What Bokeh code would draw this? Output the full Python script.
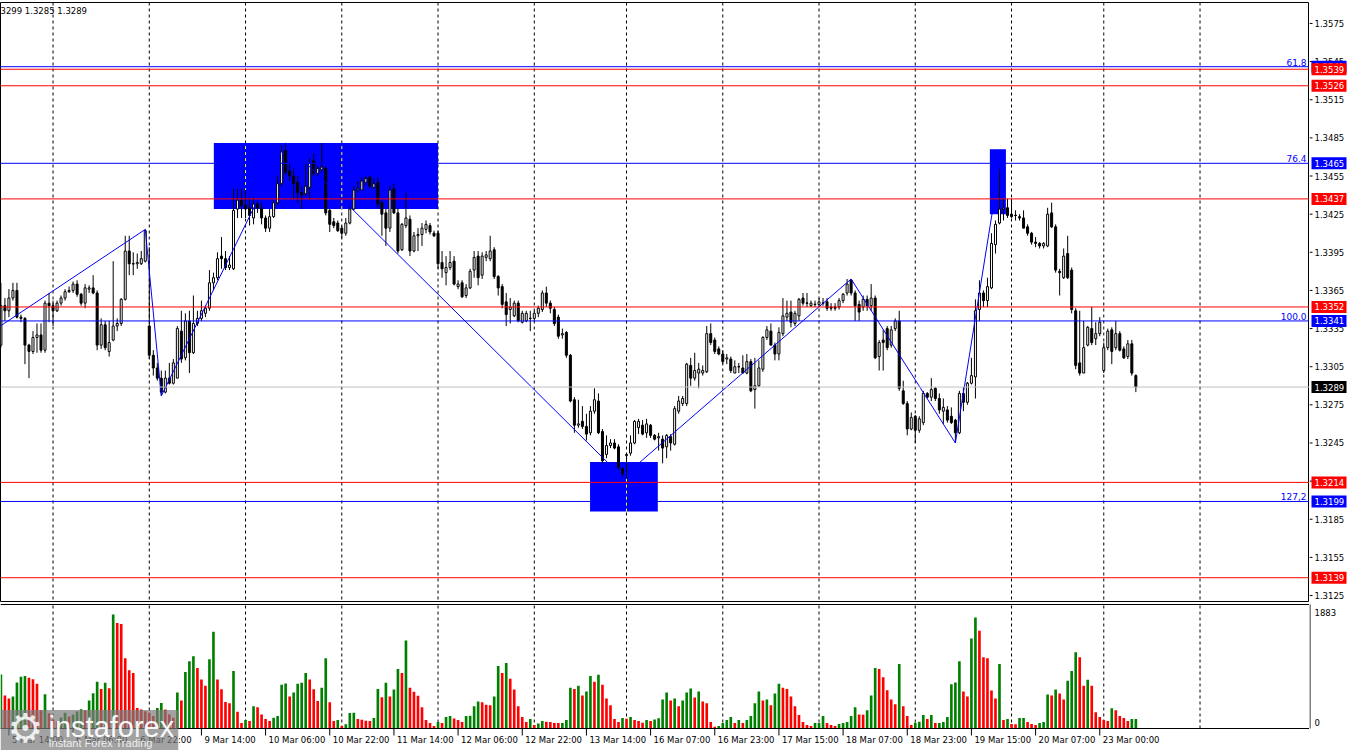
from bokeh.plotting import figure
from bokeh.layouts import column, row
from bokeh.models import Range1d, Span, Label
from bokeh.core.properties import value
from bokeh.embed import file_html
from bokeh.resources import INLINE

# ---------------- data (H1 bars, index 0 = 5 Mar 12:00) ----------------
open_ = [
    1.3322, 1.3353, 1.3349, 1.3359, 1.3365, 1.3344, 1.3343, 1.3322, 1.3317, 1.3328,
    1.3330, 1.3318, 1.3355, 1.3353, 1.3349, 1.3355, 1.3359, 1.3364, 1.3365, 1.3370,
    1.3362, 1.3355, 1.3366, 1.3367, 1.3363, 1.3322, 1.3338, 1.3317, 1.3326, 1.3337,
    1.3339, 1.3358, 1.3396, 1.3386, 1.3386, 1.3386, 1.3388, 1.3337, 1.3314, 1.3304,
    1.3296, 1.3285, 1.3296, 1.3292, 1.3296, 1.3333, 1.3312, 1.3341, 1.3316, 1.3339,
    1.3343, 1.3347, 1.3351, 1.3371, 1.3375, 1.3392, 1.3390, 1.3383, 1.3382, 1.3429,
    1.3436, 1.3432, 1.3430, 1.3422, 1.3433, 1.3430, 1.3422, 1.3414, 1.3423, 1.3434,
    1.3449, 1.3475, 1.3459, 1.3455, 1.3450, 1.3442, 1.3441, 1.3446, 1.3467, 1.3457,
    1.3460, 1.3461, 1.3428, 1.3419, 1.3418, 1.3414, 1.3410, 1.3418, 1.3429, 1.3444,
    1.3444, 1.3450, 1.3454, 1.3446, 1.3450, 1.3434, 1.3426, 1.3414, 1.3445, 1.3426,
    1.3397, 1.3416, 1.3421, 1.3396, 1.3408, 1.3409, 1.3413, 1.3416, 1.3410, 1.3410,
    1.3387, 1.3379, 1.3383, 1.3388, 1.3368, 1.3371, 1.3361, 1.3367, 1.3381, 1.3392,
    1.3377, 1.3391, 1.3390, 1.3397, 1.3376, 1.3368, 1.3356, 1.3350, 1.3345, 1.3355,
    1.3340, 1.3341, 1.3343, 1.3343, 1.3347, 1.3350, 1.3363, 1.3355, 1.3350, 1.3344,
    1.3330, 1.3332, 1.3314, 1.3279, 1.3259, 1.3262, 1.3258, 1.3253, 1.3270, 1.3278,
    1.3254, 1.3236, 1.3243, 1.3245, 1.3242, 1.3225, 1.3235, 1.3237, 1.3245, 1.3257,
    1.3259, 1.3253, 1.3259, 1.3251, 1.3249, 1.3248, 1.3242, 1.3250, 1.3244, 1.3270,
    1.3276, 1.3276, 1.3306, 1.3296, 1.3300, 1.3300, 1.3301, 1.3331, 1.3326, 1.3319,
    1.3315, 1.3311, 1.3311, 1.3300, 1.3305, 1.3304, 1.3300, 1.3309, 1.3287, 1.3290,
    1.3303, 1.3328, 1.3333, 1.3322, 1.3315, 1.3331, 1.3344, 1.3348, 1.3339, 1.3345,
    1.3359, 1.3355, 1.3353, 1.3354, 1.3354, 1.3355, 1.3356, 1.3352, 1.3352, 1.3352,
    1.3357, 1.3363, 1.3373, 1.3363, 1.3354, 1.3352, 1.3358, 1.3353, 1.3359, 1.3313,
    1.3326, 1.3335, 1.3322, 1.3335, 1.3341, 1.3286, 1.3276, 1.3256, 1.3266, 1.3255,
    1.3261, 1.3284, 1.3281, 1.3288, 1.3280, 1.3270, 1.3271, 1.3266, 1.3263, 1.3253,
    1.3284, 1.3277, 1.3292, 1.3297, 1.3350, 1.3363, 1.3357, 1.3367, 1.3401, 1.3418,
    1.3429, 1.3430, 1.3425, 1.3424, 1.3423, 1.3422, 1.3415, 1.3410, 1.3403, 1.3402,
    1.3400, 1.3400, 1.3426, 1.3415, 1.3380, 1.3375, 1.3394, 1.3381, 1.3349, 1.3308,
    1.3300, 1.3322, 1.3335, 1.3327, 1.3331, 1.3302, 1.3320, 1.3334, 1.3320, 1.3331,
    1.3319, 1.3313, 1.3323, 1.3298,
]
high = [
    1.3371, 1.3359, 1.3366, 1.3371, 1.3371, 1.3346, 1.3344, 1.3323, 1.3333, 1.3339,
    1.3339, 1.3357, 1.3363, 1.3357, 1.3357, 1.3361, 1.3366, 1.3368, 1.3372, 1.3373,
    1.3363, 1.3370, 1.3369, 1.3377, 1.3365, 1.3343, 1.3341, 1.3341, 1.3388, 1.3343,
    1.3359, 1.3408, 1.3408, 1.3395, 1.3394, 1.3396, 1.3413, 1.3399, 1.3318, 1.3308,
    1.3302, 1.3302, 1.3308, 1.3311, 1.3337, 1.3349, 1.3347, 1.3349, 1.3361, 1.3349,
    1.3357, 1.3353, 1.3381, 1.3379, 1.3395, 1.3407, 1.3396, 1.3392, 1.3445, 1.3445,
    1.3445, 1.3444, 1.3438, 1.3438, 1.3437, 1.3434, 1.3424, 1.3429, 1.3436, 1.3455,
    1.3479, 1.3481, 1.3466, 1.3461, 1.3455, 1.3447, 1.3466, 1.3469, 1.3473, 1.3463,
    1.3481, 1.3463, 1.3429, 1.3422, 1.3420, 1.3416, 1.3422, 1.3432, 1.3447, 1.3451,
    1.3454, 1.3455, 1.3455, 1.3453, 1.3454, 1.3436, 1.3429, 1.3447, 1.3449, 1.3430,
    1.3418, 1.3442, 1.3424, 1.3411, 1.3414, 1.3418, 1.3420, 1.3418, 1.3412, 1.3412,
    1.3396, 1.3392, 1.3396, 1.3392, 1.3373, 1.3373, 1.3370, 1.3382, 1.3396, 1.3396,
    1.3395, 1.3396, 1.3408, 1.3399, 1.3377, 1.3370, 1.3363, 1.3359, 1.3357, 1.3357,
    1.3349, 1.3349, 1.3349, 1.3349, 1.3353, 1.3365, 1.3368, 1.3357, 1.3352, 1.3346,
    1.3335, 1.3333, 1.3315, 1.3281, 1.3279, 1.3274, 1.3268, 1.3274, 1.3288, 1.3284,
    1.3256, 1.3251, 1.3248, 1.3248, 1.3244, 1.3226, 1.3237, 1.3251, 1.3263, 1.3264,
    1.3263, 1.3264, 1.3260, 1.3252, 1.3253, 1.3251, 1.3252, 1.3252, 1.3274, 1.3282,
    1.3282, 1.3308, 1.3312, 1.3316, 1.3308, 1.3306, 1.3337, 1.3339, 1.3328, 1.3321,
    1.3318, 1.3315, 1.3313, 1.3310, 1.3308, 1.3314, 1.3315, 1.3311, 1.3312, 1.3310,
    1.3329, 1.3337, 1.3339, 1.3324, 1.3336, 1.3359, 1.3357, 1.3357, 1.3349, 1.3359,
    1.3363, 1.3363, 1.3357, 1.3357, 1.3359, 1.3359, 1.3359, 1.3355, 1.3355, 1.3359,
    1.3363, 1.3374, 1.3374, 1.3365, 1.3357, 1.3361, 1.3361, 1.3370, 1.3361, 1.3326,
    1.3334, 1.3337, 1.3337, 1.3343, 1.3349, 1.3294, 1.3278, 1.3269, 1.3267, 1.3266,
    1.3286, 1.3285, 1.3296, 1.3289, 1.3284, 1.3280, 1.3274, 1.3273, 1.3264, 1.3286,
    1.3289, 1.3293, 1.3312, 1.3358, 1.3373, 1.3365, 1.3375, 1.3410, 1.3420, 1.3462,
    1.3437, 1.3437, 1.3437, 1.3428, 1.3425, 1.3428, 1.3417, 1.3411, 1.3407, 1.3403,
    1.3403, 1.3430, 1.3434, 1.3417, 1.3382, 1.3398, 1.3408, 1.3383, 1.3351, 1.3349,
    1.3341, 1.3337, 1.3352, 1.3340, 1.3344, 1.3324, 1.3335, 1.3336, 1.3341, 1.3333,
    1.3321, 1.3326, 1.3326, 1.3299,
]
low = [
    1.3320, 1.3341, 1.3344, 1.3357, 1.3343, 1.3340, 1.3307, 1.3296, 1.3315, 1.3316,
    1.3316, 1.3316, 1.3340, 1.3337, 1.3348, 1.3353, 1.3357, 1.3363, 1.3363, 1.3360,
    1.3353, 1.3351, 1.3363, 1.3362, 1.3318, 1.3319, 1.3318, 1.3313, 1.3325, 1.3333,
    1.3337, 1.3357, 1.3377, 1.3377, 1.3382, 1.3385, 1.3387, 1.3311, 1.3298, 1.3294,
    1.3282, 1.3284, 1.3291, 1.3291, 1.3296, 1.3308, 1.3310, 1.3300, 1.3315, 1.3337,
    1.3341, 1.3344, 1.3349, 1.3365, 1.3373, 1.3382, 1.3381, 1.3381, 1.3381, 1.3422,
    1.3422, 1.3422, 1.3416, 1.3417, 1.3426, 1.3417, 1.3411, 1.3411, 1.3422, 1.3432,
    1.3447, 1.3456, 1.3451, 1.3437, 1.3434, 1.3429, 1.3439, 1.3437, 1.3455, 1.3455,
    1.3458, 1.3424, 1.3411, 1.3414, 1.3411, 1.3406, 1.3408, 1.3417, 1.3428, 1.3442,
    1.3444, 1.3448, 1.3445, 1.3445, 1.3430, 1.3408, 1.3400, 1.3411, 1.3425, 1.3394,
    1.3396, 1.3414, 1.3392, 1.3395, 1.3396, 1.3400, 1.3410, 1.3409, 1.3407, 1.3382,
    1.3375, 1.3369, 1.3381, 1.3369, 1.3366, 1.3359, 1.3359, 1.3366, 1.3375, 1.3369,
    1.3374, 1.3388, 1.3388, 1.3374, 1.3361, 1.3351, 1.3337, 1.3339, 1.3344, 1.3340,
    1.3339, 1.3340, 1.3333, 1.3341, 1.3344, 1.3348, 1.3352, 1.3347, 1.3337, 1.3327,
    1.3327, 1.3312, 1.3277, 1.3253, 1.3257, 1.3256, 1.3247, 1.3251, 1.3268, 1.3252,
    1.3229, 1.3233, 1.3241, 1.3240, 1.3224, 1.3218, 1.3217, 1.3235, 1.3244, 1.3252,
    1.3251, 1.3249, 1.3249, 1.3247, 1.3239, 1.3229, 1.3233, 1.3239, 1.3243, 1.3268,
    1.3274, 1.3274, 1.3290, 1.3294, 1.3288, 1.3298, 1.3300, 1.3322, 1.3315, 1.3314,
    1.3307, 1.3307, 1.3300, 1.3300, 1.3300, 1.3300, 1.3299, 1.3285, 1.3272, 1.3289,
    1.3301, 1.3326, 1.3322, 1.3310, 1.3310, 1.3329, 1.3341, 1.3336, 1.3337, 1.3341,
    1.3353, 1.3352, 1.3352, 1.3352, 1.3352, 1.3353, 1.3349, 1.3349, 1.3349, 1.3350,
    1.3355, 1.3361, 1.3361, 1.3341, 1.3341, 1.3349, 1.3349, 1.3349, 1.3311, 1.3302,
    1.3302, 1.3318, 1.3320, 1.3333, 1.3286, 1.3275, 1.3251, 1.3255, 1.3245, 1.3253,
    1.3259, 1.3280, 1.3278, 1.3278, 1.3268, 1.3260, 1.3261, 1.3260, 1.3245, 1.3252,
    1.3270, 1.3275, 1.3291, 1.3280, 1.3341, 1.3352, 1.3352, 1.3366, 1.3394, 1.3417,
    1.3420, 1.3422, 1.3422, 1.3420, 1.3420, 1.3414, 1.3408, 1.3401, 1.3399, 1.3398,
    1.3398, 1.3399, 1.3414, 1.3379, 1.3361, 1.3374, 1.3374, 1.3347, 1.3303, 1.3298,
    1.3300, 1.3321, 1.3322, 1.3322, 1.3329, 1.3300, 1.3318, 1.3307, 1.3318, 1.3317,
    1.3311, 1.3311, 1.3298, 1.3285,
]
close = [
    1.3353, 1.3349, 1.3359, 1.3365, 1.3344, 1.3343, 1.3322, 1.3317, 1.3328, 1.3330,
    1.3318, 1.3355, 1.3353, 1.3349, 1.3355, 1.3359, 1.3364, 1.3365, 1.3370, 1.3362,
    1.3355, 1.3367, 1.3367, 1.3363, 1.3322, 1.3338, 1.3320, 1.3324, 1.3337, 1.3339,
    1.3358, 1.3396, 1.3386, 1.3386, 1.3387, 1.3390, 1.3412, 1.3314, 1.3304, 1.3296,
    1.3285, 1.3296, 1.3292, 1.3308, 1.3335, 1.3311, 1.3341, 1.3316, 1.3339, 1.3343,
    1.3349, 1.3351, 1.3371, 1.3375, 1.3390, 1.3390, 1.3383, 1.3385, 1.3428, 1.3436,
    1.3432, 1.3429, 1.3424, 1.3433, 1.3430, 1.3422, 1.3414, 1.3423, 1.3434, 1.3449,
    1.3475, 1.3458, 1.3455, 1.3449, 1.3442, 1.3440, 1.3447, 1.3465, 1.3457, 1.3461,
    1.3462, 1.3426, 1.3417, 1.3416, 1.3412, 1.3410, 1.3418, 1.3429, 1.3444, 1.3445,
    1.3451, 1.3453, 1.3447, 1.3449, 1.3433, 1.3425, 1.3414, 1.3444, 1.3426, 1.3396,
    1.3417, 1.3422, 1.3396, 1.3408, 1.3409, 1.3414, 1.3417, 1.3411, 1.3408, 1.3386,
    1.3382, 1.3383, 1.3387, 1.3370, 1.3370, 1.3360, 1.3367, 1.3380, 1.3391, 1.3375,
    1.3392, 1.3393, 1.3396, 1.3376, 1.3367, 1.3354, 1.3346, 1.3352, 1.3355, 1.3341,
    1.3347, 1.3347, 1.3343, 1.3347, 1.3351, 1.3363, 1.3355, 1.3351, 1.3339, 1.3329,
    1.3331, 1.3314, 1.3278, 1.3259, 1.3260, 1.3258, 1.3252, 1.3270, 1.3279, 1.3253,
    1.3231, 1.3243, 1.3245, 1.3241, 1.3226, 1.3221, 1.3236, 1.3245, 1.3262, 1.3262,
    1.3252, 1.3260, 1.3251, 1.3248, 1.3250, 1.3241, 1.3251, 1.3245, 1.3272, 1.3278,
    1.3280, 1.3307, 1.3296, 1.3302, 1.3303, 1.3302, 1.3331, 1.3324, 1.3317, 1.3315,
    1.3309, 1.3312, 1.3302, 1.3305, 1.3305, 1.3300, 1.3309, 1.3286, 1.3290, 1.3304,
    1.3328, 1.3334, 1.3322, 1.3315, 1.3332, 1.3345, 1.3347, 1.3340, 1.3347, 1.3358,
    1.3355, 1.3355, 1.3355, 1.3354, 1.3356, 1.3355, 1.3351, 1.3351, 1.3351, 1.3357,
    1.3362, 1.3370, 1.3363, 1.3353, 1.3348, 1.3358, 1.3353, 1.3359, 1.3312, 1.3324,
    1.3324, 1.3320, 1.3334, 1.3341, 1.3288, 1.3276, 1.3256, 1.3265, 1.3255, 1.3264,
    1.3284, 1.3281, 1.3287, 1.3280, 1.3271, 1.3273, 1.3263, 1.3261, 1.3253, 1.3284,
    1.3277, 1.3292, 1.3298, 1.3349, 1.3363, 1.3357, 1.3368, 1.3402, 1.3417, 1.3429,
    1.3430, 1.3424, 1.3423, 1.3424, 1.3422, 1.3414, 1.3410, 1.3403, 1.3402, 1.3400,
    1.3402, 1.3425, 1.3415, 1.3381, 1.3379, 1.3392, 1.3375, 1.3350, 1.3306, 1.3300,
    1.3320, 1.3336, 1.3324, 1.3331, 1.3340, 1.3320, 1.3333, 1.3317, 1.3331, 1.3318,
    1.3312, 1.3323, 1.3300, 1.3289,
]
volume = [
    891, 545, 497, 529, 761, 853, 869, 837, 815, 740,
    300, 567, 250, 150, 120, 180, 260, 200, 230, 280,
    320, 300, 464, 583, 772, 653, 756, 664, 1883, 1744,
    1728, 1161, 961, 918, 340, 313, 286, 259, 205, 340,
    421, 313, 232, 178, 594, 464, 934, 1112, 1193, 999,
    810, 707, 1145, 1598, 810, 648, 437, 416, 950, 275,
    92, 140, 124, 367, 351, 232, 157, 124, 178, 205,
    724, 745, 529, 594, 740, 756, 918, 810, 648, 454,
    675, 1161, 432, 124, 140, 43, 70, 254, 260, 157,
    146, 130, 125, 173, 653, 518, 756, 529, 643, 983,
    918, 1453, 675, 605, 540, 351, 140, 92, 43, 108,
    92, 189, 205, 167, 140, 108, 205, 210, 367, 448,
    432, 394, 383, 529, 1031, 918, 1080, 821, 643, 367,
    189, 108, 157, 59, 81, 124, 113, 108, 92, 90,
    92, 140, 675, 653, 707, 545, 610, 869, 772, 886,
    724, 497, 383, 157, 108, 173, 160, 189, 140, 124,
    97, 140, 124, 150, 170, 481, 594, 464, 497, 367,
    464, 594, 659, 513, 610, 448, 416, 108, 27, 43,
    92, 140, 189, 92, 140, 92, 140, 205, 416, 610,
    464, 481, 383, 578, 740, 675, 653, 529, 367, 221,
    108, 59, 43, 92, 92, 205, 92, 59, 43, 76,
    92, 108, 205, 351, 232, 228, 300, 545, 999, 983,
    848, 632, 481, 400, 1064, 367, 205, 59, 97, 113,
    221, 157, 221, 92, 92, 108, 189, 729, 761, 1112,
    610, 529, 1485, 1835, 1615, 1177, 1161, 626, 497, 1064,
    140, 157, 76, 70, 173, 175, 108, 76, 59, 92,
    108, 562, 545, 643, 578, 481, 788, 950, 1258, 1177,
    707, 805, 707, 270, 189, 140, 124, 335, 302, 205,
    173, 124, 157, 157,
]

# horizontal levels
level_prices = [1.3541, 1.3539, 1.3526, 1.3465, 1.3437, 1.3352, 1.3341, 1.3214, 1.3199, 1.3139]
level_colors = ["#0000FF", "#FF0000", "#FF0000", "#0000FF", "#FF0000",
                "#FF0000", "#0000FF", "#FF0000", "#0000FF", "#FF0000"]
fib_prices = [1.3541, 1.3465, 1.3341, 1.3199]
fib_names = ["61.8", "76.4", "100.0", "127,2"]
last_price = 1.3289
header_text = "3299 1.3285 1.3289"

# zigzag (bar index, price)
zz_bars = [-3, 36, 40, 71, 155, 212, 238, 249]
zz_prices = [1.3331, 1.3413, 1.3282, 1.3481, 1.3218, 1.3374, 1.3245, 1.3462]

# blue zones (bar index span, price span)
zone_left = [53.1, 146.9, 246.6]
zone_right = [109.0, 163.8, 250.6]
zone_top = [1.3481, 1.3230, 1.3476]
zone_bottom = [1.3429, 1.3191, 1.3425]

# axes
price_ticks = [1.3125, 1.3155, 1.3185, 1.3215, 1.3245, 1.3275, 1.3305, 1.3335,
               1.3365, 1.3395, 1.3425, 1.3455, 1.3485, 1.3515, 1.3545, 1.3575]
time_labels = ["5 Mar 14:00", "6 Mar 06:00", "6 Mar 22:00", "9 Mar 14:00", "10 Mar 06:00",
               "10 Mar 22:00", "11 Mar 14:00", "12 Mar 06:00", "12 Mar 22:00", "13 Mar 14:00",
               "16 Mar 07:00", "16 Mar 23:00", "17 Mar 15:00", "18 Mar 07:00", "18 Mar 23:00",
               "19 Mar 15:00", "20 Mar 07:00", "23 Mar 00:00"]
time_label_bars = [2, 18, 34, 50, 66, 82, 98, 114, 130, 146, 162, 178, 194, 210, 226, 242, 258, 274]
grid_bars = [13, 37, 61, 85, 109, 133, 156, 180, 204, 228, 252, 275, 299]
vol_max_label = 1883

# ---------------- checks ----------------
lens = [len(open_), len(high), len(low), len(close), len(volume)]
assert len(set(lens)) == 1, lens
n = lens[0]
bars = list(range(n))

FONT = "DejaVu Sans"
FS = "8.5px"
PW, AW = 1309, 41            # chart width, price-scale width
MH, VH = 603, 147            # main / volume heights
X0, X1 = -0.1, 326.3
Y0, Y1 = 1.31203, 1.35915
VPX = 2048 / 124.0           # volume units per pixel
VB, VT = -22 * VPX, 2048 + 1 * VPX


def fig(w, h, xr, yr, top, bottom, outline=None):
    f = figure(width=w, height=h, x_range=xr, y_range=yr, output_backend="svg",
               toolbar_location=None, x_axis_location=None, y_axis_location=None,
               min_border_left=0, min_border_right=0, min_border_top=top,
               min_border_bottom=bottom, outline_line_color=outline,
               background_fill_color="white", border_fill_color="white")
    f.grid.visible = False
    return f


# ---------------- price panel ----------------
p = fig(PW, MH, Range1d(X0, X1), Range1d(Y0, Y1), 2, 2, outline="black")

for g in grid_bars:
    p.add_layout(Span(location=g, dimension="height", line_color="black",
                      line_dash="3 3", line_width=1, level="underlay"))

p.quad(left=zone_left, right=zone_right, top=zone_top, bottom=zone_bottom,
       fill_color="#0000FF", line_color=None)
yx, yb, yt = [], [], []
for l, r, t, b in zip(zone_left, zone_right, zone_top, zone_bottom):
    for g in grid_bars:
        if l < g < r:
            yx.append(g); yb.append(b); yt.append(t)
if yx:
    p.segment(x0=yx, y0=yb, x1=yx, y1=yt, line_color="#FFFF00", line_width=1, line_dash="3 3")

body_top = [max(o, c) for o, c in zip(open_, close)]
body_bot = [min(o, c) for o, c in zip(open_, close)]
body_fill = ["white" if c >= o else "black" for o, c in zip(open_, close)]
p.segment(x0=bars, y0=low, x1=bars, y1=high, line_color="black", line_width=1)
p.vbar(x=bars, width=0.5, top=body_top, bottom=body_bot, fill_color=body_fill,
       line_color="black", line_width=1)
dj = [i for i in bars if abs(open_[i] - close[i]) < 1e-9]
if dj:
    p.segment(x0=[i - 0.3 for i in dj], x1=[i + 0.3 for i in dj],
              y0=[close[i] for i in dj], y1=[close[i] for i in dj],
              line_color="black", line_width=1)

p.line(zz_bars, zz_prices, line_color="#0000FF", line_width=1)

for pr, col in zip(level_prices, level_colors):
    p.add_layout(Span(location=pr, dimension="width", line_color=col, line_width=1))
p.add_layout(Span(location=last_price, dimension="width", line_color="#C0C0C0", line_width=1))

for pr, name in zip(fib_prices, fib_names):
    p.add_layout(Label(x=X1, y=pr, x_offset=-3, y_offset=1, text=name,
                       text_align="right", text_baseline="bottom", text_color="#0000FF",
                       text_font=FONT, text_font_size="9px"))

p.add_layout(Label(x=X0, y=Y1, x_offset=0, y_offset=-3, text=header_text,
                   text_align="left", text_baseline="top", text_color="black",
                   text_font=FONT, text_font_size=FS))

# ---------------- price scale ----------------
pa = fig(AW, MH, Range1d(0, AW), p.y_range, 2, 2)
pa.segment(x0=[0] * len(price_ticks), x1=[3] * len(price_ticks), y0=price_ticks,
           y1=price_ticks, line_color="black", line_width=1)
pa.text(x=[5] * len(price_ticks), y=price_ticks, text=[f"{t:.4f}" for t in price_ticks],
        text_align="left", text_baseline="middle", text_color="black",
        text_font=value(FONT), text_font_size=FS)
for pr, col in list(zip(level_prices, level_colors)) + [(last_price, "black")]:
    pa.rect(x=[19.5], y=[pr], width=35, height=12, height_units="screen",
            fill_color=col, line_color=None)
    pa.text(x=[5], y=[pr], text=[f"{pr:.4f}"], text_align="left", text_baseline="middle",
            text_color="white", text_font=value(FONT), text_font_size=FS)

# ---------------- volume panel ----------------
v = fig(PW, VH, p.x_range, Range1d(VB, VT), 0, 0)
v.segment(x0=grid_bars, x1=grid_bars, y0=[0] * len(grid_bars), y1=[2048] * len(grid_bars),
          line_color="black", line_dash="3 3", line_width=1, level="underlay")
v.add_layout(Span(location=2048, dimension="width", line_color="black", line_width=1))
v.add_layout(Span(location=0, dimension="width", line_color="black", line_width=1))

vcol = []
for k, vol in enumerate(volume):
    vcol.append("#008000" if (k == 0 or vol >= volume[k - 1]) else "#FF0000")
v.vbar(x=bars, width=0.66, top=volume, bottom=0, fill_color=vcol, line_color=None)

# time scale (inside the volume canvas, below the panel border)
v.segment(x0=time_label_bars, x1=time_label_bars, y0=[0] * len(time_label_bars),
          y1=[-7 * VPX] * len(time_label_bars), line_color="black", line_width=1)
v.text(x=time_label_bars, y=[-11 * VPX] * len(time_label_bars), text=time_labels,
       x_offset=3, text_align="left", text_baseline="middle", text_color="black",
       text_font=value(FONT), text_font_size=FS)

# watermark
v.add_layout(Label(x=X0, y=0, x_offset=0, y_offset=-4, text="instaforex",
                   text_align="left", text_baseline="alphabetic", text_color="white",
                   text_alpha=0.95, text_font="Liberation Sans", text_font_size="29px",
                   background_fill_color="#7a7a7a", background_fill_alpha=0.7,
                   padding=dict(left=48, right=4, top=1, bottom=12)))
v.add_layout(Label(x=X0, y=0, x_offset=25, y_offset=1, text="\u2699",
                   text_align="center", text_baseline="middle", text_color="white",
                   text_alpha=0.85, text_font="DejaVu Sans", text_font_size="40px"))
v.add_layout(Label(x=X0, y=0, x_offset=48, y_offset=-14, text="Instant Forex Trading",
                   text_align="left", text_baseline="alphabetic", text_color="#eeeeee",
                   text_font="Liberation Sans", text_font_size="11px"))

# ---------------- volume scale ----------------
va = fig(AW, VH, Range1d(0, AW), v.y_range, 0, 0)
va.segment(x0=[0.5], x1=[0.5], y0=[0], y1=[2048], line_color="black", line_width=1)
va.text(x=[5, 5], y=[vol_max_label, 0], text=[str(vol_max_label), "0"],
        text_align="left", text_baseline="middle", text_color="black",
        text_font=value(FONT), text_font_size=FS, y_offset=[-2, -6])

layout = row(column(p, v), column(pa, va))
open("out.html", "w").write(file_html(layout, INLINE, "GBPUSD H1"))
